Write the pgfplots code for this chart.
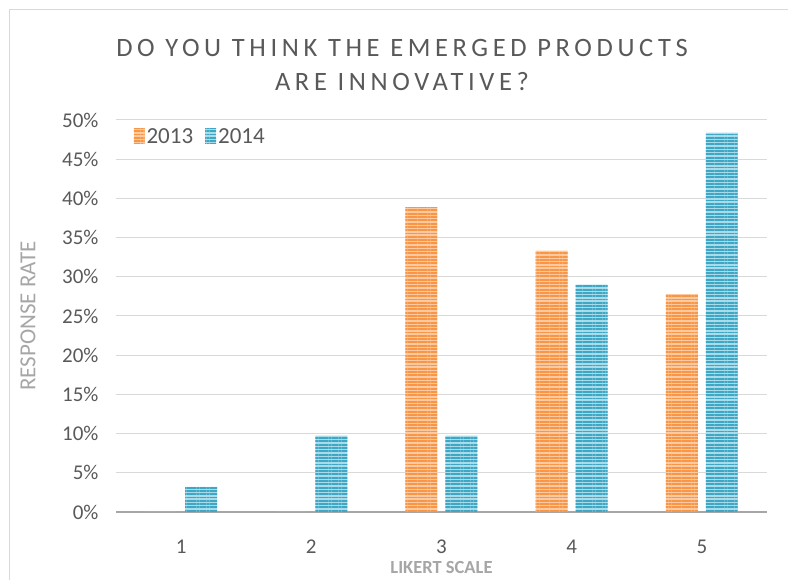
\documentclass[border=0pt]{standalone}
\usepackage{pgfplots}
\pgfplotsset{compat=1.18}
\usepackage{fontspec}
\setmainfont{Carlito}
\newfontfamily\titlefont[LetterSpace=17.5]{Carlito}
\usetikzlibrary{patterns.meta}
\definecolor{orA}{HTML}{F79646}
\definecolor{orB}{HTML}{FCC9A0}
\definecolor{blA}{HTML}{3FA7C4}
\definecolor{blB}{HTML}{A8DCEA}
\definecolor{txt}{HTML}{595959}
\definecolor{lab}{HTML}{A6A6A6}
\definecolor{grd}{HTML}{D9D9D9}
\begin{document}
\begin{tikzpicture}
\useasboundingbox (0,0) rectangle (788pt,580pt);
\draw[color=grd,line width=1pt] (9pt,-5pt) rectangle (800pt,570pt);
\node[font=\titlefont\fontsize{26.5}{34}\selectfont,text=txt,align=center] at (402pt,515pt) {DO YOU THINK THE EMERGED PRODUCTS\\ARE INNOVATIVE?};
\begin{axis}[
  at={(116pt,68pt)}, anchor=south west,
  scale only axis, width=651pt, height=392pt,
  xmin=0.5, xmax=5.5, ymin=0, ymax=50,
  xtick={1,2,3,4,5}, ytick={0,5,...,50},
  yticklabel={\pgfmathprintnumber{\tick}\%},
  /pgf/number format/assume math mode=true,
  tick label style={font=\fontsize{21}{24}\selectfont, text=txt},
  xticklabel style={yshift=-24pt},
  yticklabel style={xshift=-14pt},
  major tick length=0pt,
  axis lines*=left,
  y axis line style={draw=none},
  x axis line style={draw=lab, line width=2pt, -},
  ymajorgrids, grid style={draw=grd, line width=1pt},
  ybar, bar width=32pt,
  xlabel={\bfseries LIKERT SCALE}, ylabel={RESPONSE RATE},
  xlabel style={font=\fontsize{18.5}{22}\selectfont, text=lab, at={(axis description cs:0.5,0)}, anchor=center, yshift=-56pt},
  ylabel style={font=\fontsize{23}{26}\selectfont, text=lab, at={(axis description cs:0,0.5)}, anchor=center, yshift=88pt},
  legend style={at={(0.022,0.99)}, anchor=north west, draw=none, fill=none,
    font=\fontsize{23}{26}\selectfont, text=txt, legend columns=2,
    /tikz/every even column/.append style={column sep=10pt}},
  legend image code/.code={\draw[#1,draw=none] (-2pt,-7pt) rectangle (9pt,8pt);},
]
\addplot[bar shift=-20pt, draw=none, fill=orB, postaction={pattern={Lines[angle=0,distance=3.3pt,line width=1.9pt]}, pattern color=orA}]
  coordinates {(1,0) (2,0) (3,38.9) (4,33.3) (5,27.8)};
\addplot[bar shift=20pt, draw=none, fill=blB, postaction={pattern={Lines[angle=0,distance=3.3pt,line width=1.9pt]}, pattern color=blA}]
  coordinates {(1,3.2) (2,9.7) (3,9.7) (4,29.0) (5,48.4)};
\legend{2013,2014}
\end{axis}
\end{tikzpicture}
\end{document}
